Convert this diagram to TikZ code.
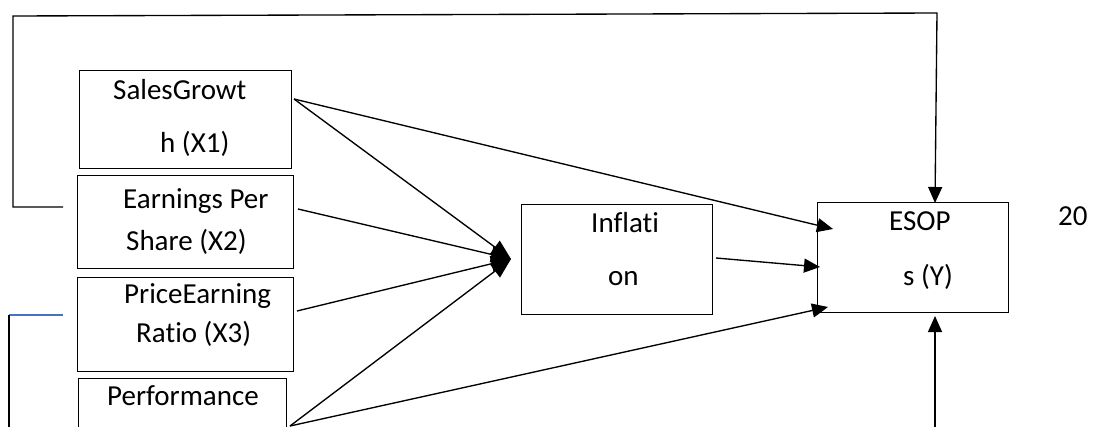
\documentclass[tikz,border=0pt]{standalone}
\usepackage{fontspec}
\setmainfont{Carlito}[Ligatures={NoCommon,NoContextual}]
\usetikzlibrary{arrows.meta}
\definecolor{wordblue}{RGB}{68,114,196}
\begin{document}
\begin{tikzpicture}[x=1pt,y=-1pt,
  box/.style={draw, line width=1.3pt, inner sep=0pt, anchor=north west},
  lbl/.style={anchor=base west, inner sep=0pt, font=\fontsize{29}{31}\selectfont},
  ln/.style={line width=1.35pt},
  arr/.style={ln, -{Triangle[length=16pt,width=14pt]}},
  harr/.style={ln, -{Triangle[length=20pt,width=16pt]}}]
\useasboundingbox (0,0) rectangle (1095,426);
\clip (0,0) rectangle (1095,426);
% boxes
\node[box, minimum width=212pt, minimum height=98pt] (sg) at (79,70) {};
\node[box, minimum width=216pt, minimum height=93pt] (eps) at (77,175) {};
\node[box, minimum width=216pt, minimum height=94pt] (per) at (77,277) {};
\node[box, minimum width=208pt, minimum height=100pt] (perf) at (78,378) {};
\node[box, minimum width=191pt, minimum height=110pt] (infl) at (521,204) {};
\node[box, minimum width=191pt, minimum height=110pt] (esop) at (817,202) {};
% labels
\node[lbl] (t1) at (113,99) {SalesGrowt};
\node[lbl] (t2) at (160,152) {h (X1)};
\node[lbl] (t3) at (123,208) {Earnings Per};
\node[lbl] (t4) at (126,250) {Share (X2)};
\node[lbl] (t5) at (124,303) {PriceEarning};
\node[lbl] (t6) at (136,342) {Ratio (X3)};
\node[lbl] (t7) at (107,405) {Performance};
\node[lbl] (t8) at (591,232) {Inflati};
\node[lbl] (t9) at (608,285) {on};
\node[lbl] (t10) at (889,230) {ESOP};
\node[lbl] (t11) at (903,285) {s (Y)};
\node[lbl] (t12) at (1058,225) {20};
% connector points
\coordinate (sgA) at (294,99);
\coordinate (eA) at (298,209);
\coordinate (pA) at (297,311);
\coordinate (fA) at (290,426);
\coordinate (iA) at (716,258);
\coordinate (hub) at (511,259);
\coordinate (e1) at (833,229);
\coordinate (e2) at (820,267);
\coordinate (e3) at (828,307);
\coordinate (etop) at (935,203);
\coordinate (ebot) at (935,316);
\coordinate (ebotS) at (935,430);
\coordinate (kL) at (63,207);
\coordinate (bL) at (63,315);
% arrows to hub
\draw[harr] (sgA) -- (hub);
\draw[harr] (eA) -- (hub);
\draw[harr] (pA) -- (hub);
\draw[harr] (fA) -- (hub);
% arrows to ESOP
\draw[arr] (sgA) -- (e1);
\draw[arr] (iA) -- (e2);
\draw[arr] (fA) -- (e3);
\draw[arr] (kL) -- (13,207) -- (13,16) -- (937,13) -- (etop);
\draw[arr] (ebotS) -- (ebot);
% bottom-left line
\draw[ln, wordblue] (bL) -- (9,315);
\draw[ln] (9,315) -- (9,430);
\end{tikzpicture}
\end{document}
